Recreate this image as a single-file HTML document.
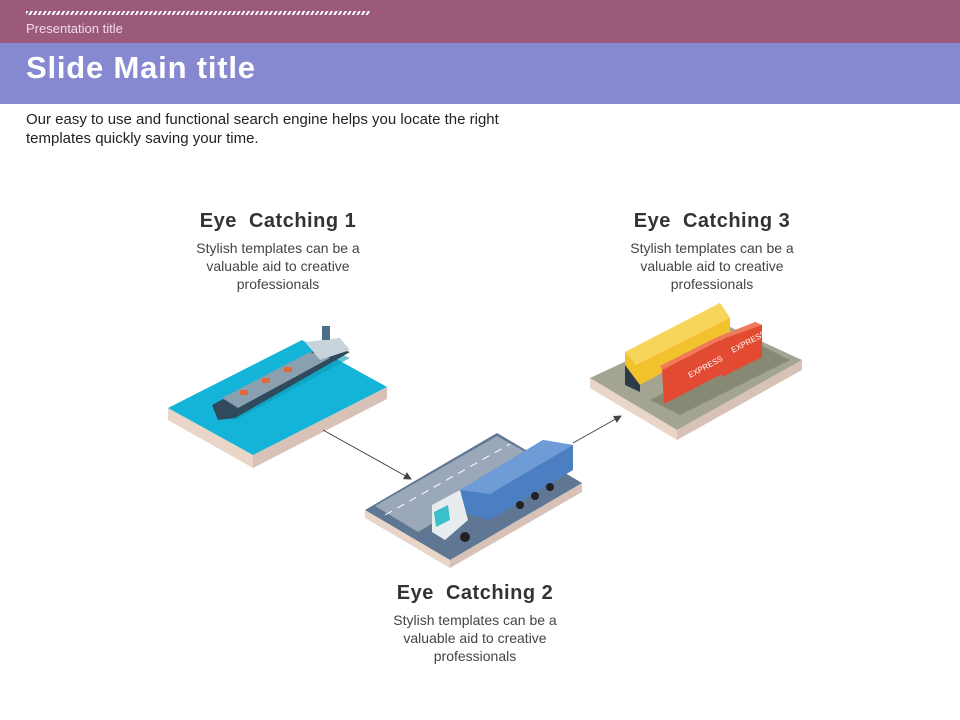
<!DOCTYPE html>
<html><head><meta charset="utf-8"><style>
body{margin:0;width:960px;height:720px;position:relative;background:#fff;font-family:"Liberation Sans",sans-serif;overflow:hidden}
.t{position:absolute;text-align:center;width:240px;color:#333}
.t h3{margin:0;font-size:20px;font-weight:bold;letter-spacing:0.5px;color:#333}
.t p{margin:6px 0 0;font-size:14px;line-height:18px;color:#444}
</style></head><body>
<div style="position:absolute;left:0;top:0;width:960px;height:43px;background:#9b5a7a"></div>
<div style="position:absolute;left:26px;top:11px;width:344px;height:4px;background:repeating-linear-gradient(120deg,#fff 0 2px,transparent 2px 4px)"></div>
<div style="position:absolute;left:26px;top:21px;font-size:13px;color:#f1dce6">Presentation title</div>
<div style="position:absolute;left:0;top:43px;width:960px;height:61px;background:#8789d0"></div>
<div style="position:absolute;left:26px;top:50px;font-size:31px;font-weight:bold;color:#fff;letter-spacing:0.8px">Slide Main title</div>
<div style="position:absolute;left:26px;top:110px;font-size:15px;line-height:19px;color:#222;width:535px">Our easy to use and functional search engine helps you locate the right templates quickly saving your time.</div>

<div class="t" style="left:158px;top:210px"><h3>Eye &nbsp;Catching 1</h3><p>Stylish templates can be a<br>valuable aid to creative<br>professionals</p></div>
<div class="t" style="left:592px;top:210px"><h3>Eye &nbsp;Catching 3</h3><p>Stylish templates can be a<br>valuable aid to creative<br>professionals</p></div>
<div class="t" style="left:355px;top:582px"><h3>Eye &nbsp;Catching 2</h3><p>Stylish templates can be a<br>valuable aid to creative<br>professionals</p></div>

<svg width="960" height="720" style="position:absolute;left:0;top:0">
<defs><marker id="a" markerWidth="8" markerHeight="8" refX="7" refY="4" orient="auto"><path d="M0,0L8,4L0,8z" fill="#444"/></marker></defs>
<!-- ship tile -->
<polygon points="168,408 253,455 253,468 168,420" fill="#e9d6c9"/>
<polygon points="253,455 387,387 387,399 253,468" fill="#d8c2b8"/>
<polygon points="168,408 302,340 387,387 253,455" fill="#14b4d8"/>
<polygon points="212,410 330,350 350,358 236,420" fill="#0d99b8" opacity=".6"/>
<polygon points="212,405 325,345 350,352 235,418 218,420" fill="#2e4a5c"/>
<polygon points="222,398 310,352 330,358 238,408" fill="#8aa0b0"/>
<g fill="#e06a3a"><rect x="240" y="390" width="8" height="5"/><rect x="262" y="378" width="8" height="5"/><rect x="284" y="367" width="8" height="5"/></g>
<polygon points="305,342 340,338 350,350 320,360" fill="#c8d4dc"/>
<rect x="322" y="326" width="8" height="14" fill="#4a6f86"/>
<!-- truck tile -->
<polygon points="365,510 450,560 450,568 365,518" fill="#e9d6c9"/>
<polygon points="450,560 582,483 582,492 450,568" fill="#d8c2b8"/>
<polygon points="365,510 497,433 582,483 450,560" fill="#5f7792"/>
<polygon points="375,506 497,436 540,460 418,532" fill="#9aa8ba"/>
<line x1="385" y1="515" x2="510" y2="444" stroke="#fff" stroke-dasharray="8,6"/>
<polygon points="460,490 543,440 573,445 573,470 490,520 460,512" fill="#4b7fc1"/>
<polygon points="460,490 543,440 573,445 490,494" fill="#6f9bd6"/>
<polygon points="432,505 460,490 468,520 445,540 432,532" fill="#e8ecef"/>
<polygon points="434,512 448,505 450,520 436,527" fill="#3ac0c8"/>
<g fill="#222"><circle cx="465" cy="537" r="5"/><circle cx="520" cy="505" r="4"/><circle cx="535" cy="496" r="4"/><circle cx="550" cy="487" r="4"/></g>
<!-- train tile -->
<polygon points="590,378 677,430 677,440 590,388" fill="#e9d6c9"/>
<polygon points="677,430 802,360 802,370 677,440" fill="#d8c2b8"/>
<polygon points="590,378 715,320 802,360 677,430" fill="#a3a592"/>
<polygon points="650,400 760,345 790,360 680,415" fill="#7b7d68" opacity=".7"/>
<polygon points="625,352 720,303 730,318 730,335 640,385 625,378" fill="#f2c22c"/>
<polygon points="625,352 720,303 730,318 636,365" fill="#f7d45a"/>
<polygon points="625,365 640,385 640,392 625,385" fill="#2d3a48"/>
<polygon points="662,370 720,340 722,374 664,404" fill="#e24a32"/>
<polygon points="716,343 755,322 762,325 762,357 722,377" fill="#e24a32"/>
<polygon points="662,370 720,340 762,325 755,322 715,338 660,366" fill="#f07a5c"/>
<text x="690" y="378" font-size="8" fill="#fff" font-family="Liberation Sans" transform="rotate(-28 690 378)">EXPRESS</text>
<text x="733" y="353" font-size="8" fill="#fff" font-family="Liberation Sans" transform="rotate(-28 733 353)">EXPRESS</text>
<!-- arrows -->
<line x1="323" y1="430" x2="411" y2="479" stroke="#444" stroke-width="1" marker-end="url(#a)"/>
<line x1="573" y1="443" x2="621" y2="416" stroke="#444" stroke-width="1" marker-end="url(#a)"/>
</svg>
</body></html>
